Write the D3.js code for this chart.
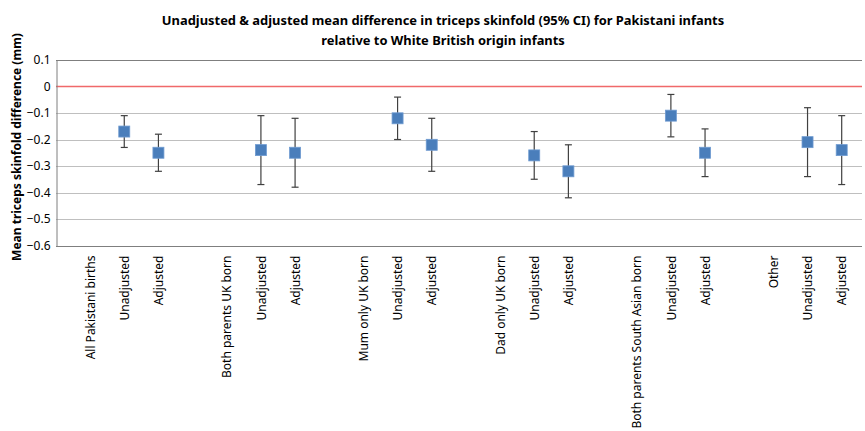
<!DOCTYPE html>
<html>
<head>
<meta charset="utf-8">
<script src="https://cdn.jsdelivr.net/npm/d3@7"></script>
<style>
  body { margin: 0; background: #fff; }
  svg { display: block; }
  text { font-family: "Noto Sans", "Open Sans", sans-serif; }
</style>
</head>
<body>
<svg id="chart" width="865" height="431"></svg>
<script>
const categories = ["All Pakistani births", "Unadjusted", "Adjusted", "",
  "Both parents UK born", "Unadjusted", "Adjusted", "",
  "Mum only UK born", "Unadjusted", "Adjusted", "",
  "Dad only UK born", "Unadjusted", "Adjusted", "",
  "Both parents South Asian born", "Unadjusted", "Adjusted", "",
  "Other", "Unadjusted", "Adjusted"];
const meanDiff = [null, -0.17, -0.25, null,
  null, -0.24, -0.25, null,
  null, -0.12, -0.22, null,
  null, -0.26, -0.32, null,
  null, -0.11, -0.25, null,
  null, -0.21, -0.24];
const ciUpper = [null, -0.11, -0.18, null,
  null, -0.11, -0.12, null,
  null, -0.04, -0.12, null,
  null, -0.17, -0.22, null,
  null, -0.03, -0.16, null,
  null, -0.08, -0.11];
const ciLower = [null, -0.23, -0.32, null,
  null, -0.37, -0.38, null,
  null, -0.20, -0.32, null,
  null, -0.35, -0.42, null,
  null, -0.19, -0.34, null,
  null, -0.34, -0.37];
const yTicks = [0.1, 0, -0.1, -0.2, -0.3, -0.4, -0.5, -0.6];
const titleLines = ["Unadjusted & adjusted mean difference in triceps skinfold (95% CI) for Pakistani infants",
  "relative to White British origin infants"];
const yTitle = "Mean triceps skinfold difference (mm)";

const svg = d3.select("#chart");
const plotLeft = 56, plotRight = 862, plotTop = 60, plotBottom = 245.5;

const idx = categories.map((d, i) => i);
const x = d3.scalePoint().domain(idx).range([90.1, 841.7]);
const y = d3.scaleLinear().domain([-0.6, 0.1]).range([plotBottom, plotTop]);

// gridlines
svg.append("g").selectAll("line").data(yTicks.filter(t => t !== 0 && t !== -0.6)).join("line")
  .attr("x1", plotLeft).attr("x2", plotRight)
  .attr("y1", d => Math.round(y(d)) + 0.5).attr("y2", d => Math.round(y(d)) + 0.5)
  .attr("stroke", d => d === 0.1 ? "#7f7f7f" : "#bfbfbf").attr("stroke-width", 1);

// zero line
svg.append("line").attr("x1", plotLeft).attr("x2", plotRight)
  .attr("y1", Math.round(y(0)) + 0.5).attr("y2", Math.round(y(0)) + 0.5)
  .attr("stroke", "#f0696a").attr("stroke-width", 1.3);

// y axis
const yAxis = svg.append("g").attr("transform", `translate(${plotLeft + 0.5},0)`)
  .call(d3.axisLeft(y).tickValues(yTicks).tickSize(0).tickPadding(6).tickFormat(d => d3.format("")(+d.toFixed(1))));
yAxis.select(".domain").attr("stroke", "#7f7f7f");
yAxis.selectAll("text").attr("font-size", 12).attr("fill", "#000");

// x axis
const xAxis = svg.append("g").attr("transform", `translate(0,${Math.round(plotBottom) + 0.5})`)
  .call(d3.axisBottom(x).tickSize(0).tickFormat(i => categories[i]));
xAxis.select(".domain").attr("d", `M${plotLeft},0H${plotRight}`).attr("stroke", "#7f7f7f");
xAxis.selectAll("text")
  .attr("font-size", 12).attr("fill", "#000")
  .attr("text-anchor", "end")
  .attr("transform", "rotate(-90)")
  .attr("x", -9).attr("y", 0).attr("dy", "0.35em");

// error bars
const pts = idx.filter(i => meanDiff[i] !== null);
const eb = svg.append("g").attr("stroke", "#404040").attr("stroke-width", 1.2);
eb.selectAll(".v").data(pts).join("line").attr("class", "v")
  .attr("x1", i => x(i)).attr("x2", i => x(i))
  .attr("y1", i => y(ciUpper[i])).attr("y2", i => y(ciLower[i]));
eb.selectAll(".t").data(pts).join("line").attr("class", "t")
  .attr("x1", i => x(i) - 3.5).attr("x2", i => x(i) + 3.5)
  .attr("y1", i => y(ciUpper[i])).attr("y2", i => y(ciUpper[i]));
eb.selectAll(".b").data(pts).join("line").attr("class", "b")
  .attr("x1", i => x(i) - 3.5).attr("x2", i => x(i) + 3.5)
  .attr("y1", i => y(ciLower[i])).attr("y2", i => y(ciLower[i]));

// markers
svg.append("g").selectAll("rect").data(pts).join("rect")
  .attr("x", i => x(i) - 5.5).attr("y", i => y(meanDiff[i]) - 5.5)
  .attr("width", 11).attr("height", 11)
  .attr("fill", "#4a7ebb").attr("stroke", "#6f9bd1").attr("stroke-width", 0.8);

// title
svg.append("g").selectAll("text").data(titleLines).join("text")
  .attr("x", 443).attr("y", (d, i) => 25 + i * 19.5)
  .attr("text-anchor", "middle").attr("font-weight", "bold").attr("font-size", 12.9)
  .text(d => d);

// y title
svg.append("text")
  .attr("transform", `translate(21,147) rotate(-90)`)
  .attr("text-anchor", "middle").attr("font-weight", "bold").attr("font-size", 12)
  .text(yTitle);
</script>
</body>
</html>
